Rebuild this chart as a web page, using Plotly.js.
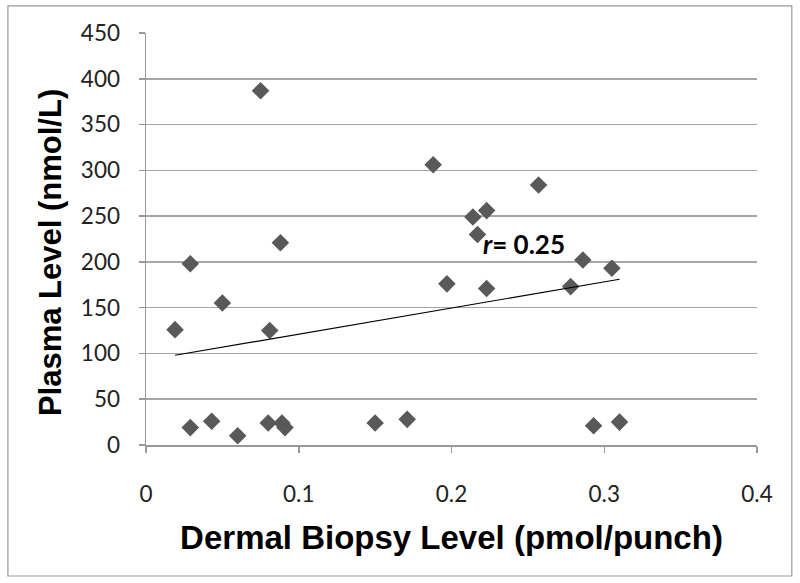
<!DOCTYPE html>
<html>
<head>
<meta charset="utf-8">
<script src="https://cdn.plot.ly/plotly-3.0.1.min.js"></script>
<style>
html,body{margin:0;padding:0;background:#fff;}
#chart{width:800px;height:583px;}
</style>
</head>
<body>
<div id="chart"></div>
<script>
// Data
const biopsyLevel = [0.019, 0.029, 0.029, 0.043, 0.050, 0.060, 0.075, 0.081, 0.080, 0.088, 0.089, 0.091,
                     0.150, 0.171, 0.188, 0.197, 0.214, 0.217, 0.223, 0.223, 0.257, 0.278, 0.286, 0.293, 0.305, 0.310];
const plasmaLevel = [126, 198, 19, 26, 155, 10, 387, 125, 24, 221, 24, 19,
                     24, 28, 306, 176, 249, 230, 256, 171, 284, 173, 202, 21, 193, 25];
// Linear trend line end points (as drawn in the reference)
const trendX = [0.019, 0.310];
const trendY = [98, 181];
const rLabel = "<i>r</i>= 0.25";
const xTitle = 'Dermal Biopsy Level (pmol/punch)';
const yTitle = 'Plasma Level (nmol/L)';
const xTickVals = [0, 0.1, 0.2, 0.3, 0.4];
const xTickText = ["0", "0.1", "0.2", "0.3", "0.4"];
const yTickVals = [0, 50, 100, 150, 200, 250, 300, 350, 400, 450];

const traces = [
  {
    x: biopsyLevel, y: plasmaLevel, type: 'scatter', mode: 'markers',
    marker: {symbol: 'diamond', size: 13.5, color: '#595959', line: {width: 0}},
    hoverinfo: 'x+y', showlegend: false
  },
  {
    x: trendX, y: trendY, type: 'scatter', mode: 'lines',
    line: {color: '#000', width: 1.2}, hoverinfo: 'skip', showlegend: false
  }
];

const tickFont = {family: 'Lato, "Open Sans", sans-serif', size: 22.5, color: '#222'};
const titleFont = {family: '"Liberation Sans", Arial, sans-serif', color: '#000', weight: 'bold'};

const layout = {
  width: 800, height: 583,
  margin: {l: 146, r: 43, t: 33, b: 138},
  paper_bgcolor: '#fff', plot_bgcolor: '#fff',
  showlegend: false,
  xaxis: {
    range: [0, 0.4], tickvals: xTickVals, ticktext: xTickText,
    showgrid: false, zeroline: false,
    showline: true, linecolor: '#999', linewidth: 1.5,
    ticks: 'outside', ticklen: 6, tickcolor: '#999', tickwidth: 1.5,
    tickfont: tickFont, ticklabelstandoff: 22,
    title: {text: xTitle, standoff: 20,
            font: Object.assign({size: 33}, titleFont)},
    fixedrange: true
  },
  yaxis: {
    range: [0, 450], tickvals: yTickVals,
    showgrid: true, gridcolor: '#a6a6a6', gridwidth: 1.5,
    zeroline: false,
    showline: true, linecolor: '#999', linewidth: 1.5,
    ticks: 'outside', ticklen: 6, tickcolor: '#999', tickwidth: 1.5,
    tickfont: tickFont, ticklabelstandoff: 14,
    fixedrange: true
  },
  annotations: [
    {x: 0.2475, y: 219, xref: 'x', yref: 'y', text: rLabel, showarrow: false,
     font: {family: 'Lato, "Open Sans", sans-serif', size: 26, color: '#000', weight: 'bold'}},
    {x: -0.157, y: 0.466, xref: 'paper', yref: 'paper', text: yTitle, showarrow: false,
     textangle: -90, xanchor: 'center', yanchor: 'middle',
     font: Object.assign({size: 31}, titleFont)}
  ],
  shapes: [
    {type: 'rect', xref: 'paper', yref: 'paper', x0: -0.226, x1: 1.057, y0: -0.318, y1: 1.066,
     line: {color: '#999', width: 1.2}, fillcolor: 'rgba(0,0,0,0)', layer: 'below'}
  ]
};

Plotly.newPlot('chart', traces, layout, {displayModeBar: false, staticPlot: true});
</script>
</body>
</html>
